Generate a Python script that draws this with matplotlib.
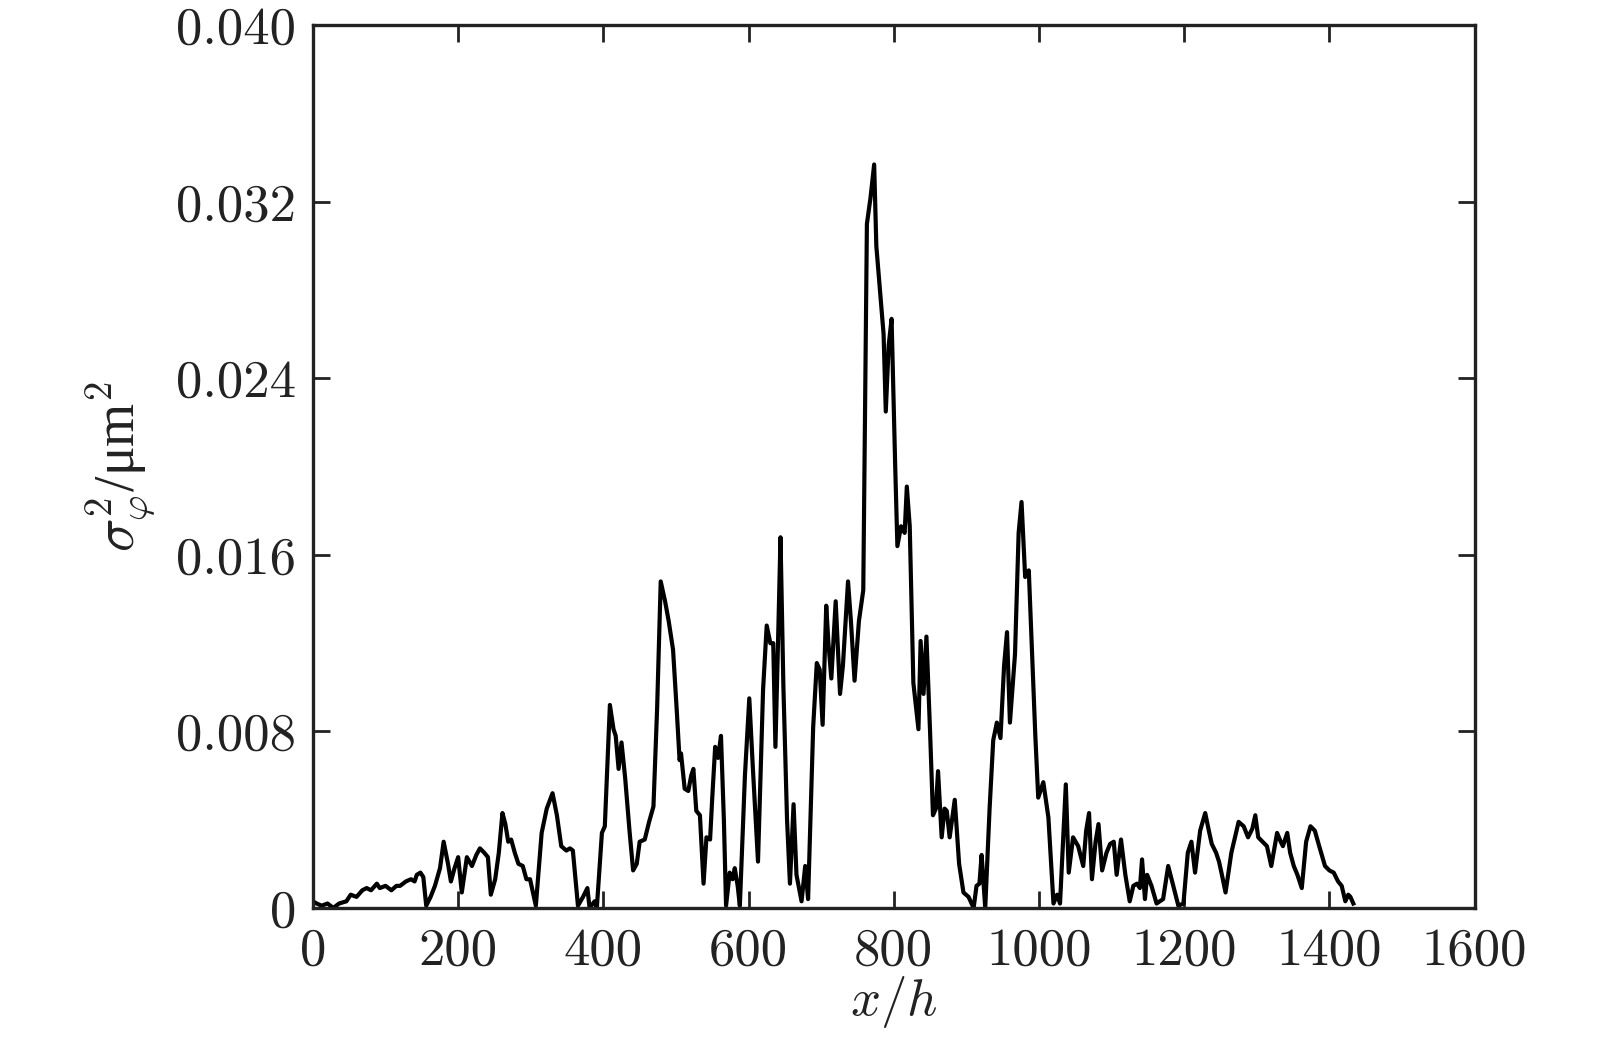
import matplotlib
matplotlib.use("Agg")
import matplotlib.pyplot as plt

# values
x_h = [0, 5, 12, 20, 28, 36, 46, 52, 60, 68, 74, 80, 88, 92, 100, 108, 115, 120, 128, 135,
       140, 143, 148, 152, 156, 162, 168, 175, 180, 186, 190, 195, 200, 205, 212, 219, 225, 230, 236, 241,
       245, 251, 256, 261, 265, 269, 273, 278, 283, 289, 294, 299, 307, 315, 322, 330, 336, 342, 349, 354,
       358, 365, 372, 378, 381, 388, 391, 398, 402, 409, 414, 417, 421, 425, 430, 436, 441, 446, 450, 457,
       463, 469, 474, 479, 485, 490, 496, 501, 505, 507, 512, 517, 521, 524, 528, 533, 538, 542, 547, 550,
       554, 558, 562, 566, 569, 574, 578, 581, 585, 588, 595, 601, 606, 613, 620, 625, 630, 634, 637, 641,
       644, 648, 653, 657, 662, 666, 673, 678, 682, 689, 694, 698, 702, 707, 710, 714, 720, 726, 730, 737,
       741, 746, 752, 758, 763, 768, 773, 776, 781, 786, 789, 793, 797, 799, 802, 805, 810, 815, 818, 822,
       825, 827, 834, 837, 841, 845, 850, 854, 858, 861, 866, 870, 873, 877, 884, 890, 896, 903, 910, 914,
       918, 921, 926, 932, 937, 942, 947, 952, 956, 960, 967, 972, 976, 981, 986, 990, 995, 999, 1006, 1013,
       1020, 1025, 1029, 1037, 1041, 1047, 1054, 1061, 1065, 1069, 1073, 1078, 1082, 1087, 1093, 1098, 1103, 1107, 1113, 1119,
       1125, 1130, 1135, 1139, 1142, 1146, 1149, 1155, 1162, 1171, 1178, 1185, 1192, 1199, 1205, 1210, 1215, 1222, 1229, 1234,
       1238, 1244, 1248, 1252, 1257, 1265, 1275, 1282, 1288, 1294, 1298, 1302, 1308, 1314, 1320, 1328, 1333, 1336, 1342, 1346,
       1351, 1356, 1362, 1368, 1374, 1380, 1386, 1394, 1400, 1406, 1412, 1417, 1422, 1426, 1429, 1433]

sigma2 = [0.0003, 0.0002, 0.0001, 0.0002, 0.0000, 0.0002, 0.0003, 0.0006, 0.0005, 0.0008,
          0.0009, 0.0008, 0.0011, 0.0009, 0.0010, 0.0008, 0.0010, 0.0010, 0.0012, 0.0013,
          0.0012, 0.0015, 0.0016, 0.0014, 0.0001, 0.0005, 0.0010, 0.0018, 0.0030, 0.0020,
          0.0012, 0.0018, 0.0023, 0.0007, 0.0023, 0.0019, 0.0024, 0.0027, 0.0025, 0.0023,
          0.0006, 0.0013, 0.0025, 0.0043, 0.0038, 0.0030, 0.0031, 0.0025, 0.0020, 0.0019,
          0.0013, 0.0013, 0.0001, 0.0034, 0.0045, 0.0052, 0.0042, 0.0028, 0.0026, 0.0027,
          0.0026, 0.0001, 0.0005, 0.0009, 0.0000, 0.0003, 0.0000, 0.0034, 0.0037, 0.0092,
          0.0081, 0.0078, 0.0063, 0.0075, 0.0059, 0.0035, 0.0017, 0.0020, 0.0030, 0.0031,
          0.0039, 0.0046, 0.0090, 0.0148, 0.0139, 0.0130, 0.0117, 0.0090, 0.0067, 0.0070,
          0.0054, 0.0053, 0.0060, 0.0063, 0.0044, 0.0042, 0.0011, 0.0032, 0.0031, 0.0050,
          0.0073, 0.0068, 0.0078, 0.0040, 0.0001, 0.0016, 0.0013, 0.0018, 0.0010, 0.0001,
          0.0060, 0.0095, 0.0063, 0.0021, 0.0099, 0.0128, 0.0120, 0.0120, 0.0073, 0.0126,
          0.0168, 0.0100, 0.0040, 0.0011, 0.0047, 0.0015, 0.0003, 0.0019, 0.0004, 0.0082,
          0.0111, 0.0108, 0.0083, 0.0137, 0.0120, 0.0104, 0.0139, 0.0097, 0.0110, 0.0148,
          0.0130, 0.0103, 0.0130, 0.0144, 0.0310, 0.0322, 0.0337, 0.0300, 0.0280, 0.0260,
          0.0225, 0.0255, 0.0267, 0.0240, 0.0200, 0.0164, 0.0173, 0.0170, 0.0191, 0.0173,
          0.0130, 0.0102, 0.0081, 0.0121, 0.0097, 0.0123, 0.0080, 0.0042, 0.0045, 0.0062,
          0.0032, 0.0045, 0.0044, 0.0032, 0.0049, 0.0020, 0.0007, 0.0005, 0.0000, 0.0010,
          0.0011, 0.0024, 0.0000, 0.0045, 0.0076, 0.0084, 0.0077, 0.0110, 0.0125, 0.0084,
          0.0115, 0.0170, 0.0184, 0.0150, 0.0153, 0.0120, 0.0078, 0.0050, 0.0057, 0.0041,
          0.0002, 0.0006, 0.0002, 0.0056, 0.0016, 0.0032, 0.0028, 0.0019, 0.0035, 0.0043,
          0.0013, 0.0030, 0.0038, 0.0017, 0.0025, 0.0029, 0.0030, 0.0015, 0.0031, 0.0015,
          0.0003, 0.0010, 0.0011, 0.0009, 0.0022, 0.0004, 0.0015, 0.0010, 0.0002, 0.0004,
          0.0019, 0.0010, 0.0001, 0.0002, 0.0025, 0.0030, 0.0016, 0.0035, 0.0043, 0.0035,
          0.0029, 0.0025, 0.0021, 0.0015, 0.0007, 0.0025, 0.0039, 0.0037, 0.0032, 0.0036,
          0.0042, 0.0032, 0.0030, 0.0028, 0.0019, 0.0034, 0.0030, 0.0028, 0.0034, 0.0025,
          0.0019, 0.0015, 0.0009, 0.0030, 0.0037, 0.0035, 0.0028, 0.0019, 0.0017, 0.0016,
          0.0012, 0.0010, 0.0003, 0.0006, 0.0005, 0.0002]

x_ticks = [0, 200, 400, 600, 800, 1000, 1200, 1400, 1600]
y_ticks = [0, 0.008, 0.016, 0.024, 0.032, 0.040]
y_labels = ["0", "0.008", "0.016", "0.024", "0.032", "0.040"]

plt.rcParams["font.family"] = ["cmr10", "DejaVu Serif"]
plt.rcParams["mathtext.fontset"] = "cm"
plt.rcParams["axes.unicode_minus"] = False

fig = plt.figure(figsize=(16, 10.4), dpi=100)
ax = fig.add_axes([0.1956, 0.127, 0.7260, 0.8485])

ax.plot(x_h, sigma2, color="black", linewidth=3.0)

ax.set_xlim(0, 1600)
ax.set_ylim(0, 0.040)
ax.set_xticks(x_ticks)
ax.set_xticklabels([str(t) for t in x_ticks])
ax.set_yticks(y_ticks)
ax.set_yticklabels(y_labels)

ax.tick_params(direction="in", top=True, right=True, length=12, width=2,
               labelsize=38, colors="#222222")
ax.tick_params(axis="x", pad=14)
ax.tick_params(axis="y", pad=12)
for s in ax.spines.values():
    s.set_linewidth(2.4)
    s.set_color("#222222")

ax.set_xlabel(r"$x/h$", fontsize=38, color="#222222", labelpad=0)
# upright micro sign comes from Liberation Serif, the rest is mathtext
ax.set_ylabel(r"$\sigma_{\varphi}^{2}$/μm$^{2}$", fontsize=40, color="#222222",
              labelpad=14, family=["Liberation Serif"])

fig.savefig("out.png", dpi=100, facecolor="white")
